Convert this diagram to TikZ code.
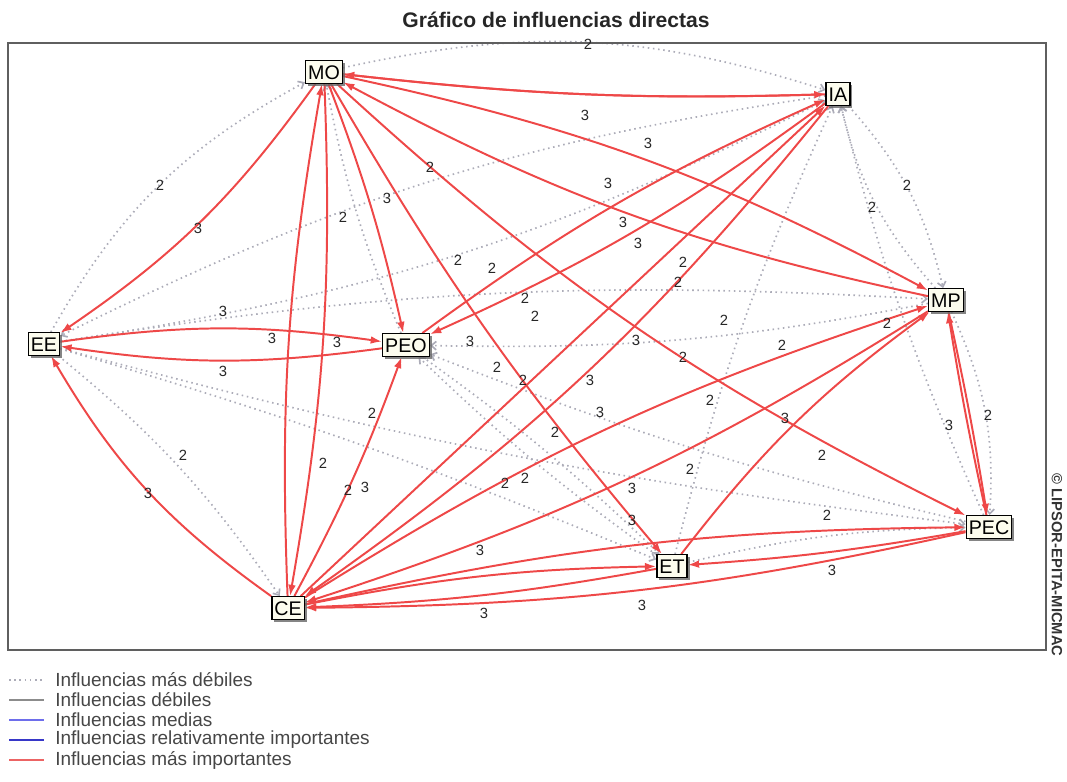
\documentclass[tikz,border=0pt]{standalone}
\usepackage{fontspec}
\setmainfont{Liberation Sans}
\usetikzlibrary{arrows.meta,shadows,backgrounds}
\definecolor{imp}{RGB}{238,72,72}
\definecolor{weak}{RGB}{172,172,184}
\definecolor{framegray}{RGB}{95,95,95}
\definecolor{boxfill}{RGB}{252,252,238}
\definecolor{legtext}{RGB}{70,70,70}
\definecolor{medblue}{RGB}{110,110,235}
\definecolor{relblue}{RGB}{55,55,200}
\definecolor{legred}{RGB}{236,100,100}

\begin{document}
\begin{tikzpicture}[
  x=0.025cm, y=0.025cm,
  var/.style={draw=black, line width=1pt, fill=boxfill, font=\fontsize{14}{14}\selectfont,
    inner xsep=1.8pt, inner ysep=3pt, text height=10pt, text depth=0pt,
    drop shadow={shadow xshift=1.8pt, shadow yshift=-1.8pt, fill=black!60, opacity=0.8}},
  strong/.style={-{Latex[length=8pt,width=5.5pt]}, draw=imp, line width=1.4pt},
  faint/.style={-{Straight Barb[length=3.5pt,width=6pt]}, draw=weak, line width=1.2pt, dash pattern=on 1.1pt off 2.6pt},
  val/.style={font=\fontsize{10.5}{10.5}\selectfont, text=black!85, inner sep=0.5pt},
  legend/.style={anchor=west, font=\fontsize{13.5}{13.5}\selectfont, text=legtext, inner sep=0pt},
]
\useasboundingbox (0,0) rectangle (1067,-782);
% title and frame
\node[font=\fontsize{15}{15}\selectfont\bfseries, text=black!85] (title) at (556,-20) {Gráfico de influencias directas};
\node[draw=framegray, line width=1.5pt, minimum width=1038*0.025cm, minimum height=607*0.025cm, inner sep=0pt] (frame) at (527,-346.5) {};
\node[rotate=-90, font=\fontsize{10.5}{10.5}\selectfont\bfseries, text=black!80] (copy) at (1057,-565) {© LIPSOR-EPITA-MICMAC};
% variables
\node[var] (mo) at (324,-72) {MO};
\node[var] (ia) at (838,-94) {IA};
\node[var] (mp) at (946,-300) {MP};
\node[var] (ee) at (44,-344) {EE};
\node[var] (peo) at (406,-345) {PEO};
\node[var] (pec) at (989,-527) {PEC};
\node[var] (et) at (672,-566) {ET};
\node[var] (ce) at (288,-608) {CE};
\begin{scope}[on background layer]
% weakest influences
\draw[faint] (mo) to[bend left=15] (ia);
\draw[faint] (ee) to[bend left=16] (mo);
\draw[faint] (ee) to[bend right=9] (ia);
\draw[faint] (ia) to[bend right=9] (ee);
\draw[faint] (ia) to[bend left=14] (mp);
\draw[faint] (mp) to[bend left=14] (ia);
\draw[faint] (mp) to[bend left=14] (pec);
\draw[faint] (mp) to[bend left=6] (peo);
\draw[faint] (ee) to[bend left=6] (mp);
\draw[faint] (ee) to[bend right=4] (pec);
\draw[faint] (ee) to[bend left=3] (et);
\draw[faint] (ee) to[bend left=8] (ce);
\draw[faint] (pec) to[bend left=4] (peo);
\draw[faint] (peo) to[bend left=4] (et);
\draw[faint] (et) to[bend left=4] (peo);
\draw[faint] (et) to[bend left=5] (ia);
\draw[faint] (pec) to[bend left=5] (ia);
\draw[faint] (et) to[bend left=6] (pec);
\draw[faint] (peo) to[bend left=6] (mo);
% strongest influences
\draw[strong] (mo) to[bend right=4] (ia);
\draw[strong] (ia) to[bend left=4] (mo);
\draw[strong] (mo) to[bend left=8] (mp);
\draw[strong] (mp) to[bend left=8] (mo);
\draw[strong] (mo) to[bend right=8] (pec);
\draw[strong] (mo) to[bend right=5] (et);
\draw[strong] (mo) to[bend left=4] (peo);
\draw[strong] (mo) to[bend left=10] (ee);
\draw[strong] (mo) to[bend left=6] (ce);
\draw[strong] (ce) to[bend left=6] (mo);
\draw[strong] (ee) to[bend left=8] (peo);
\draw[strong] (peo) to[bend left=8] (ee);
\draw[strong] (ce) to[bend left=12] (ee);
\draw[strong] (ce) to[bend right=4] (peo);
\draw[strong] (ia) to[bend left=6] (peo);
\draw[strong] (peo) to[bend left=6] (ia);
\draw[strong] (ce) -- (ia);
\draw[strong] (ia) to[bend left=8] (ce);
\draw[strong] (ce) to[bend left=7] (mp);
\draw[strong] (mp) to[bend left=7] (ce);
\draw[strong] (ce) to[bend left=5] (et);
\draw[strong] (et) to[bend left=4] (ce);
\draw[strong] (pec) to[bend left=6] (ce);
\draw[strong] (ce) to[bend left=6] (pec);
\draw[strong] (pec) to[bend left=3] (et);
\draw[strong] (et) to[bend left=8] (mp);
\draw[strong] (mp) to[bend left=1.5] (pec);
\draw[strong] (pec) to[bend left=1.5] (mp);
\end{scope}
% influence values
\foreach \px/\py/\v [count=\i] in {
  588/44/2, 585/115/3, 648/143/3, 608/183/3, 623/222/3, 638/243/3, 907/185/2, 872/207/2,
  160/185/2, 198/228/3, 430/167/2, 387/198/3, 343/217/2, 458/260/2, 492/268/2, 525/298/2,
  535/316/2, 683/262/2, 678/282/2, 724/320/2, 887/323/2, 223/311/3, 272/338/3, 337/342/3,
  470/341/3, 636/340/3, 782/345/2, 683/357/2, 223/371/3, 497/367/2, 523/380/2, 590/380/3,
  710/400/2, 600/412/3, 785/418/3, 949/425/3, 988/415/2, 372/413/2, 555/432/2, 822/455/2,
  183/455/2, 690/469/2, 323/463/2, 148/493/3, 348/490/2, 365/487/3, 505/483/2, 525/478/2,
  632/488/3, 632/520/3, 827/515/2, 480/550/3, 832/570/3, 642/605/3, 484/613/3}
  \node[val] (v\i) at (\px,-\py) {\v};
% legend
\draw[weak, line width=1.2pt, dash pattern=on 1.1pt off 2.6pt] (9,-680) -- (44,-680);
\draw[black!45, line width=1pt] (9,-700) -- (44,-700);
\draw[medblue, line width=0.8pt] (9,-720) -- (44,-720);
\draw[relblue, line width=2pt] (9,-740) -- (44,-740);
\draw[legred, line width=2pt] (9,-760) -- (44,-760);
\node[legend] (leg1) at (55,-680) {Influencias más débiles};
\node[legend] (leg2) at (55,-700) {Influencias débiles};
\node[legend] (leg3) at (55,-720) {Influencias medias};
\node[legend] (leg4) at (55,-740) {Influencias relativamente importantes};
\node[legend] (leg5) at (55,-760) {Influencias más importantes};
\end{tikzpicture}
\end{document}
